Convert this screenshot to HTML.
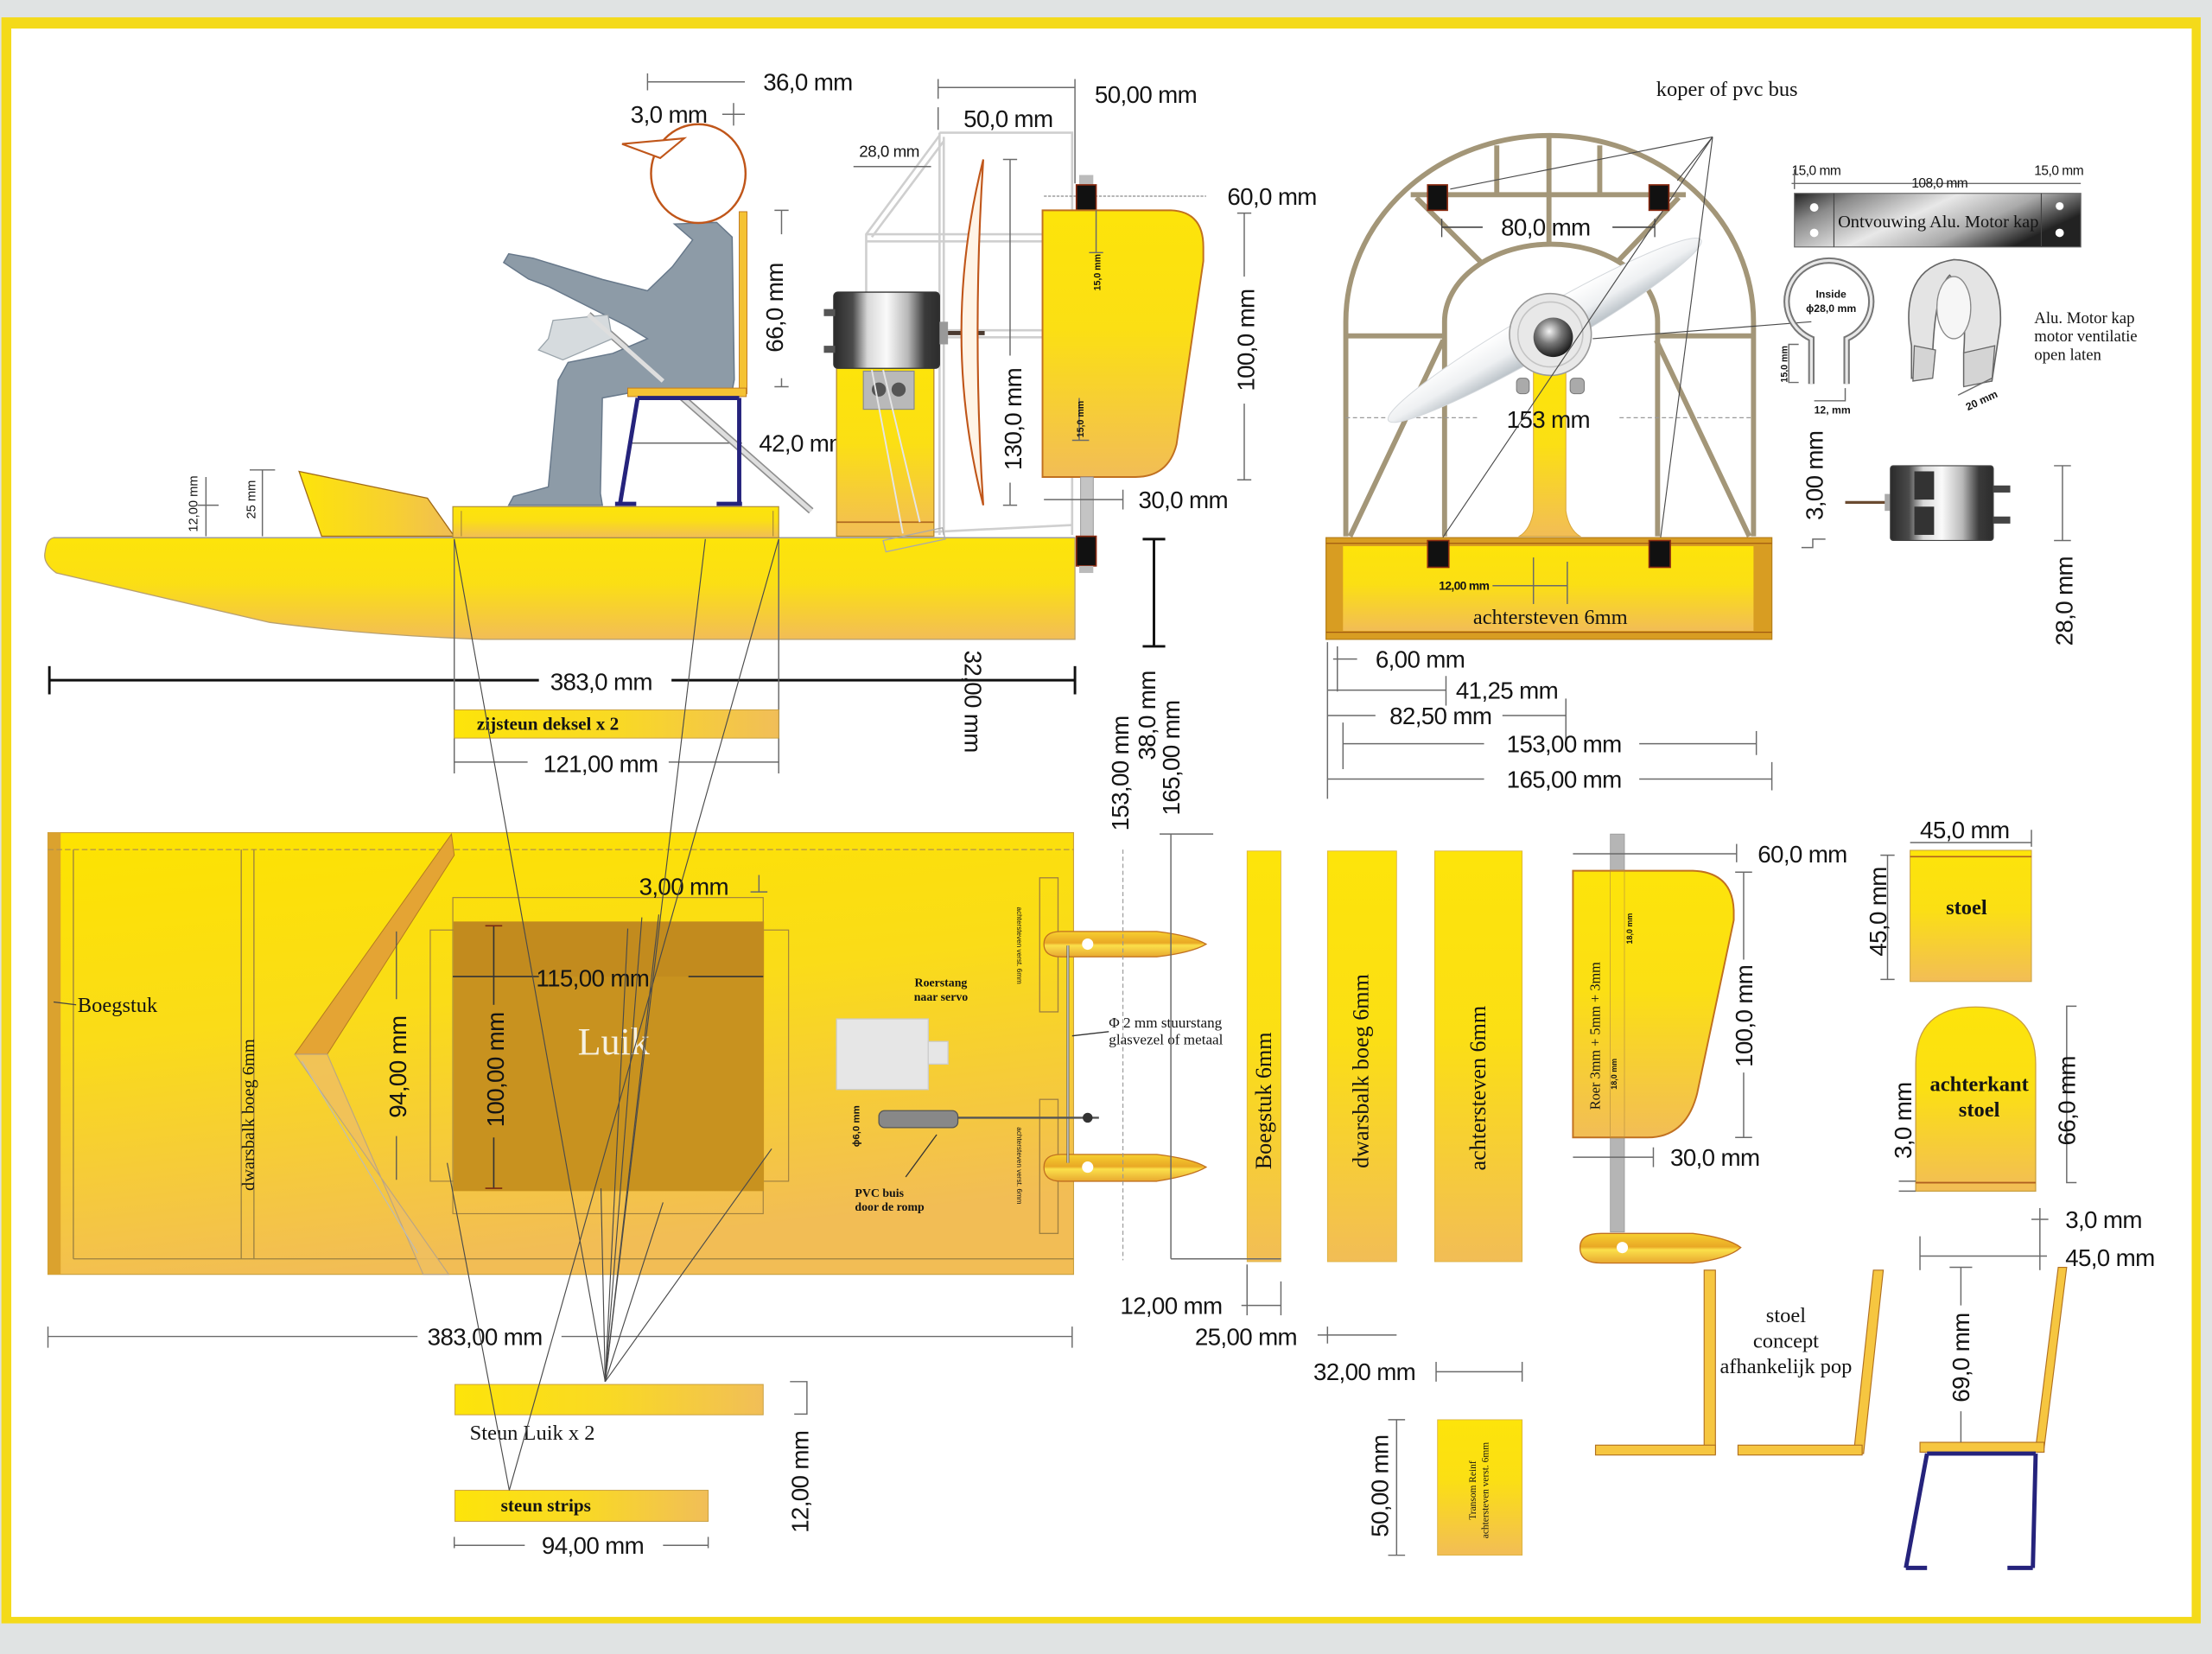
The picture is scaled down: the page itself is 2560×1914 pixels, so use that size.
<!DOCTYPE html>
<html><head><meta charset="utf-8"><style>
html,body{margin:0;padding:0;background:#fff;}
svg{display:block;}
.d{font-family:"Liberation Sans",sans-serif;font-size:17px;fill:#141414;letter-spacing:-0.4px;}
.t{font-family:"Liberation Sans",sans-serif;fill:#141414;}
.s{font-family:"Liberation Serif",serif;fill:#141414;}
.ln{stroke:#6a6a6a;stroke-width:0.9;fill:none;}
.lk{stroke:#111;stroke-width:1.8;fill:none;}
.fr{stroke:#a39678;stroke-width:3.6;fill:none;}
.fan{stroke:#4a4a4a;stroke-width:0.7;fill:none;}
</style></head><body>
<svg width="2560" height="1914" viewBox="0 0 1568 1172" preserveAspectRatio="none" xmlns="http://www.w3.org/2000/svg">
<defs>
<linearGradient id="gY" x1="0" y1="0" x2="0" y2="1">
<stop offset="0" stop-color="#fde40a"/><stop offset="0.45" stop-color="#fbdf14"/><stop offset="1" stop-color="#f2bd56"/></linearGradient>
<linearGradient id="gH" x1="0" y1="0" x2="1" y2="0">
<stop offset="0" stop-color="#fde40a"/><stop offset="0.5" stop-color="#f9d924"/><stop offset="1" stop-color="#f1be58"/></linearGradient>
<linearGradient id="gT" x1="0" y1="0" x2="0.25" y2="1">
<stop offset="0" stop-color="#fde300"/><stop offset="0.45" stop-color="#fadc18"/><stop offset="1" stop-color="#f2bd55"/></linearGradient>
<linearGradient id="gM" x1="0" y1="0" x2="1" y2="0">
<stop offset="0" stop-color="#2a2a2a"/><stop offset="0.18" stop-color="#4a4a4a"/><stop offset="0.32" stop-color="#d8d8d8"/><stop offset="0.5" stop-color="#fafafa"/><stop offset="0.7" stop-color="#b8b8b8"/><stop offset="0.86" stop-color="#3a3a3a"/><stop offset="1" stop-color="#2c2c2c"/></linearGradient>
<linearGradient id="gS" x1="0" y1="0" x2="1" y2="0.4">
<stop offset="0" stop-color="#222"/><stop offset="0.2" stop-color="#8a8a8a"/><stop offset="0.5" stop-color="#e8e8e8"/><stop offset="0.75" stop-color="#aaa"/><stop offset="1" stop-color="#222"/></linearGradient>
<linearGradient id="gP" x1="0" y1="0" x2="0" y2="1">
<stop offset="0" stop-color="#ffffff"/><stop offset="0.55" stop-color="#eef0f2"/><stop offset="1" stop-color="#b8c0c6"/></linearGradient>
<radialGradient id="gHub" cx="0.4" cy="0.35" r="0.7">
<stop offset="0" stop-color="#f4f4f4"/><stop offset="0.45" stop-color="#777"/><stop offset="1" stop-color="#111"/></radialGradient>
<linearGradient id="gF" x1="0" y1="0" x2="0" y2="1">
<stop offset="0" stop-color="#f7d030"/><stop offset="0.45" stop-color="#e9a825"/><stop offset="0.55" stop-color="#fbe04a"/><stop offset="1" stop-color="#e8a830"/></linearGradient>
<linearGradient id="gW" x1="0" y1="0" x2="1" y2="0">
<stop offset="0" stop-color="#fde40a"/><stop offset="0.6" stop-color="#f7d030"/><stop offset="1" stop-color="#f0bd55"/></linearGradient>
</defs>

<!-- frame -->
<rect x="0" y="0" width="1568" height="1172" fill="#e0e3e3"/>
<rect x="1" y="12.3" width="1559" height="1138" fill="#f4da1a"/>
<rect x="8" y="20.2" width="1545.6" height="1125.5" fill="#ffffff"/>

<!-- ================= SIDE VIEW ================= -->
<g stroke="#cfcfcf" stroke-width="1.6" fill="none">
<path d="M666,94 L760,94 L760,379 M666,94 L666,379 M669,97 L669,379"/>
<path d="M666,96 L614,166 L614,262 M669,100 L618,168"/>
<path d="M614,166 L760,166 M614,171 L760,171"/>
<path d="M666,234 L760,234 M666,239 L760,239"/>
<path d="M614,262 L640,378 M618,262 L650,378"/>
<path d="M640,378 L760,372"/>
</g>
<line class="ln" x1="459" y1="58" x2="528" y2="58"/><line class="ln" x1="459" y1="52" x2="459" y2="64"/>
<text class="d" x="541" y="64">36,0 mm</text>
<text class="d" x="447" y="87">3,0 mm</text>
<line class="ln" x1="512" y1="81" x2="528" y2="81"/><line class="ln" x1="520" y1="73" x2="520" y2="89"/>
<line class="ln" x1="665" y1="62" x2="762" y2="62"/><line class="ln" x1="665" y1="56" x2="665" y2="70"/><line class="ln" x1="762" y1="56" x2="762" y2="130"/>
<text class="d" x="776" y="73">50,00 mm</text>
<line class="ln" x1="665" y1="76" x2="665" y2="92"/>
<text class="d" x="683" y="90">50,0 mm</text>
<text class="t" x="609" y="111" font-size="11.5" letter-spacing="-0.3">28,0 mm</text>
<line class="ln" x1="605" y1="118" x2="660" y2="118"/>

<line class="ln" x1="554" y1="149" x2="554" y2="166"/><line class="ln" x1="554" y1="268" x2="554" y2="274"/>
<line class="ln" x1="549" y1="149" x2="559" y2="149"/><line class="ln" x1="549" y1="274" x2="559" y2="274"/>
<text class="d" transform="translate(555,218) rotate(-90)" text-anchor="middle">66,0 mm</text>
<line class="ln" x1="448" y1="314" x2="526" y2="314"/>
<text class="d" x="538" y="320">42,0 mm</text>

<line x1="417" y1="223" x2="575" y2="362" stroke="#8e8e8e" stroke-width="5"/>
<line x1="417" y1="223" x2="575" y2="362" stroke="#dedede" stroke-width="3"/>

<path d="M478,158.7 L508,157.6 L519,168 L520.5,269 L519,277 L448.5,278 L427,282 L425.6,349.6 L427,358 L360.6,358 L364,351.7 L388.7,345 L395.7,269.4 L402.7,256.8 L434.4,250.4 L459,240 L445,231.4 L388.7,203 L374.6,197.7 L357,186 L360.6,179.8 L378,183 L427,198 L459,206 L476.6,189 L491,170 Z" fill="#8d9ba7" stroke="#67788a" stroke-width="0.9"/>
<path d="M392,227 L431,223 L434,240 L399,255 L381.7,248 L388.7,240 Z" fill="#d6dbde" stroke="#9aa4ab" stroke-width="0.8"/>
<line x1="417" y1="223" x2="470" y2="270" stroke="#dedede" stroke-width="3"/>
<ellipse cx="495" cy="123" rx="33.5" ry="35" fill="#fff" stroke="#c0561a" stroke-width="1.5"/>
<polygon points="441,102 485,98 468,112" fill="#fff" stroke="#c0561a" stroke-width="1.3"/>
<rect x="524" y="150" width="5.5" height="129" fill="#f5c233" stroke="#c07a20" stroke-width="0.6"/>
<rect x="445" y="275" width="84" height="6" fill="#f5c233" stroke="#c07a20" stroke-width="0.6"/>
<path d="M452,282 L439.7,356 M524,282 L524,356 M452,282 L524,282 M436,357 L451,357 M508,357 L526,357" stroke="#25237c" stroke-width="3" fill="none"/>

<polygon points="212,334 303,353 322,380 228,380" fill="url(#gW)" stroke="#a06a18" stroke-width="0.8"/>
<path d="M38,381 L762,381 L762,453 L342,453 Q260,450 191,441 L40,406 Q30,399 32,391 Q33,382 38,381 Z" fill="url(#gY)" stroke="#b8a070" stroke-width="0.8"/>
<line x1="38" y1="381" x2="762" y2="381" stroke="#9a9a9a" stroke-width="0.8"/>
<rect x="321" y="359" width="231" height="22" fill="url(#gY)" stroke="#a88a3a" stroke-width="0.7"/>
<line x1="327" y1="362" x2="327" y2="380" stroke="#a88a3a" stroke-width="0.7"/>
<line x1="548" y1="362" x2="548" y2="380" stroke="#a88a3a" stroke-width="0.7"/>
<text class="t" font-size="9" transform="translate(140,357) rotate(-90)" text-anchor="middle">12,00 mm</text>
<line class="ln" x1="140" y1="358" x2="155" y2="358"/><line class="ln" x1="146" y1="338" x2="146" y2="380"/>
<text class="t" font-size="9" transform="translate(181,354) rotate(-90)" text-anchor="middle">25 mm</text>
<line class="ln" x1="186" y1="333" x2="186" y2="380"/><line class="ln" x1="177" y1="333" x2="195" y2="333"/>

<rect x="593" y="260" width="69" height="120" fill="url(#gY)" stroke="#b58a30" stroke-width="0.8"/>
<line x1="593" y1="370" x2="662" y2="370" stroke="#b06a20" stroke-width="1"/>
<rect x="612" y="263" width="36" height="27" fill="#b9b9b9" stroke="#888" stroke-width="0.7"/>
<circle cx="623" cy="276" r="5" fill="#555"/><circle cx="637" cy="276" r="5" fill="#555"/>
<g stroke="#e5e5e5" stroke-width="1.2" fill="none"><path d="M618,262 L640,378 M626,262 L652,370"/></g>
<polygon points="626,383 668,374 670,382 628,391" fill="none" stroke="#aaa" stroke-width="0.8"/>
<rect x="591" y="207" width="75" height="54" rx="3" fill="url(#gM)" stroke="#333" stroke-width="0.8"/>
<rect x="584" y="219" width="8" height="5" fill="#555"/><rect x="584" y="245" width="8" height="5" fill="#555"/>
<rect x="666" y="228" width="6" height="16" fill="#999"/>
<line x1="672" y1="236" x2="698" y2="236" stroke="#4a3a30" stroke-width="3"/>
<path d="M697,113 Q666,236 697,358 Q689,236 697,113 Z" fill="#fff4e6" stroke="#c0561a" stroke-width="1.3"/>
<line class="ln" x1="716" y1="113" x2="716" y2="252"/><line class="ln" x1="716" y1="342" x2="716" y2="358"/>
<line class="ln" x1="711" y1="113" x2="721" y2="113"/><line class="ln" x1="711" y1="358" x2="721" y2="358"/>
<text class="d" transform="translate(724,297) rotate(-90)" text-anchor="middle">130,0 mm</text>

<line x1="740" y1="139" x2="855" y2="139" stroke="#8a8a8a" stroke-width="0.8" stroke-dasharray="2,1"/>
<rect x="765" y="124" width="10" height="9" fill="#bbb"/>
<rect x="763" y="131" width="14" height="18" fill="#111" stroke="#8a2a10" stroke-width="1"/>
<path d="M739,149 L830,149 Q853,150 853,175 L853,185 L834,315 Q828,338 805,338 L739,338 Z" fill="url(#gY)" stroke="#c07020" stroke-width="1.2"/>
<rect x="766" y="338" width="9" height="44" fill="#c4c4c4" stroke="#999" stroke-width="0.6"/>
<rect x="763" y="380" width="14" height="21" fill="#111" stroke="#8a2a10" stroke-width="1"/>
<rect x="765" y="401" width="10" height="5" fill="#bbb"/>
<line class="ln" x1="777" y1="149" x2="777" y2="179"/><line class="ln" x1="772" y1="179" x2="782" y2="179"/>
<text class="t" font-size="6.5" transform="translate(780,193) rotate(-90)" text-anchor="middle" font-weight="bold">15,0 mm</text>
<line class="ln" x1="765" y1="282" x2="765" y2="312"/><line class="ln" x1="760" y1="312" x2="772" y2="312"/>
<text class="t" font-size="6.5" transform="translate(768,297) rotate(-90)" text-anchor="middle" font-weight="bold">15,0 mm</text>
<text class="d" x="870" y="145">60,0 mm</text>
<line class="ln" x1="882" y1="151" x2="882" y2="196"/><line class="ln" x1="882" y1="286" x2="882" y2="340"/>
<line class="ln" x1="877" y1="151" x2="887" y2="151"/><line class="ln" x1="877" y1="340" x2="887" y2="340"/>
<text class="d" transform="translate(889,241) rotate(-90)" text-anchor="middle">100,0 mm</text>
<line class="ln" x1="740" y1="354" x2="796" y2="354"/><line class="ln" x1="796" y1="347" x2="796" y2="361"/>
<text class="d" x="807" y="360">30,0 mm</text>

<line class="lk" x1="35" y1="482" x2="382" y2="482"/><line class="lk" x1="476" y1="482" x2="762" y2="482"/>
<line class="lk" x1="35" y1="472" x2="35" y2="492"/><line class="lk" x1="762" y1="472" x2="762" y2="492"/>
<text class="d" x="390" y="489">383,0 mm</text>
<line class="ln" x1="322" y1="382" x2="322" y2="548"/><line class="ln" x1="552" y1="382" x2="552" y2="548"/>
<rect x="322" y="503" width="230" height="20" fill="url(#gH)" stroke="#c9a040" stroke-width="0.6"/>
<text class="s" x="338" y="517" font-size="13" font-weight="bold">zijsteun deksel  x 2</text>
<line class="ln" x1="322" y1="540" x2="374" y2="540"/><line class="ln" x1="474" y1="540" x2="552" y2="540"/>
<text class="d" x="385" y="547">121,00 mm</text>
<text class="d" transform="translate(684,497) rotate(90)" text-anchor="middle">32,00 mm</text>
<line class="lk" x1="818" y1="382" x2="818" y2="458"/><line class="lk" x1="810" y1="382" x2="826" y2="382"/><line class="lk" x1="810" y1="458" x2="826" y2="458"/>
<text class="d" transform="translate(800,548) rotate(-90)" text-anchor="middle">153,00 mm</text>
<text class="d" transform="translate(819,507) rotate(-90)" text-anchor="middle">38,0 mm</text>
<text class="d" transform="translate(836,537) rotate(-90)" text-anchor="middle">165,00 mm</text>

<!-- ================= FRONT VIEW ================= -->
<text class="s" x="1174" y="68" font-size="15">koper of pvc bus</text>
<path class="fr" d="M954,380 L954,228 A144.5,132 0 0 1 1243,228 L1243,380"/>
<path class="fr" d="M1024,380 L1024,228 A75.5,55 0 0 1 1175,228 L1175,380"/>
<line class="fr" x1="1000" y1="138" x2="1195" y2="138"/>
<line class="fr" x1="1061" y1="138" x2="1061" y2="103" stroke-width="3"/>
<line class="fr" x1="1098" y1="138" x2="1098" y2="96" stroke-width="3"/>
<line class="fr" x1="1134" y1="138" x2="1134" y2="103" stroke-width="3"/>
<line class="fr" x1="1098" y1="138" x2="1098" y2="174" stroke-width="3"/>
<line class="fr" x1="1004" y1="140" x2="1050" y2="186" stroke-width="3"/>
<line class="fr" x1="1190" y1="140" x2="1146" y2="186" stroke-width="3"/>
<line class="fr" x1="954" y1="238" x2="1024" y2="238" stroke-width="2.5"/>
<line class="fr" x1="1175" y1="238" x2="1243" y2="238" stroke-width="2.5"/>
<line x1="954" y1="296" x2="1048" y2="296" stroke="#999" stroke-width="0.8" stroke-dasharray="3,2"/>
<line x1="1148" y1="296" x2="1243" y2="296" stroke="#999" stroke-width="0.8" stroke-dasharray="3,2"/>
<line class="fr" x1="957" y1="380" x2="1023" y2="241" stroke-width="3"/>
<line class="fr" x1="1240" y1="380" x2="1174" y2="241" stroke-width="3"/>
<!-- propeller blade -->
<ellipse cx="1095" cy="234" rx="128" ry="15" transform="rotate(-30 1095 234)" fill="url(#gP)" stroke="#d4d8dc" stroke-width="0.6"/>
<!-- pole -->
<path d="M1087,262 L1110,262 L1110,362 Q1112,375 1120,380 L1077,380 Q1085,375 1087,362 Z" fill="url(#gY)" stroke="#d6a53a" stroke-width="0.6"/>
<rect x="1075" y="268" width="9" height="11" rx="3" fill="#aaa" stroke="#777" stroke-width="0.6"/>
<rect x="1113" y="268" width="10" height="11" rx="3" fill="#aaa" stroke="#777" stroke-width="0.6"/>
<!-- hub -->
<circle cx="1099" cy="237" r="29" fill="#e8e8e8" stroke="#9a9a9a" stroke-width="1"/>
<circle cx="1099" cy="237" r="23" fill="none" stroke="#c4c4c4" stroke-width="1"/>
<circle cx="1101" cy="239" r="14" fill="url(#gHub)"/>
<g class="fan">
<line x1="1214" y1="97" x2="1028" y2="134"/>
<line x1="1214" y1="97" x2="1189" y2="128"/>
<line x1="1214" y1="97" x2="1022" y2="382"/>
<line x1="1214" y1="97" x2="1177" y2="382"/>
<line x1="1284" y1="228" x2="1129" y2="240"/>
</g>
<rect x="940" y="381" width="316" height="72" fill="#d89d22" stroke="#b7801a" stroke-width="0.8"/>
<rect x="952" y="387" width="291" height="60" fill="url(#gY)"/>
<line x1="940" y1="385" x2="1256" y2="385" stroke="#a05a10" stroke-width="0.8"/>
<line x1="940" y1="448" x2="1256" y2="448" stroke="#a05a10" stroke-width="0.8"/>
<rect x="1012" y="131" width="14" height="18" fill="#111" stroke="#8a2a10" stroke-width="1"/>
<rect x="1169" y="131" width="14" height="18" fill="#111" stroke="#8a2a10" stroke-width="1"/>
<rect x="1012" y="383" width="15" height="19" fill="#111" stroke="#8a2a10" stroke-width="1"/>
<rect x="1169" y="383" width="15" height="19" fill="#111" stroke="#8a2a10" stroke-width="1"/>
<line x1="1022" y1="161" x2="1051" y2="161" stroke="#444" stroke-width="1"/>
<line x1="1143" y1="161" x2="1173" y2="161" stroke="#444" stroke-width="1"/>
<line x1="1022" y1="155" x2="1022" y2="168" stroke="#444" stroke-width="0.8"/>
<line x1="1173" y1="155" x2="1173" y2="168" stroke="#444" stroke-width="0.8"/>
<text class="d" x="1064" y="167">80,0 mm</text>
<text class="d" x="1068" y="303">153 mm</text>
<text class="t" x="1020" y="418" font-size="8.5" font-weight="bold" letter-spacing="-0.4">12,00 mm</text>
<line class="ln" x1="1058" y1="415" x2="1111" y2="415"/><line class="ln" x1="1087" y1="395" x2="1087" y2="428"/><line class="ln" x1="1111" y1="398" x2="1111" y2="428"/>
<text class="s" x="1099" y="442" font-size="15" text-anchor="middle">achtersteven 6mm</text>
<line class="ln" x1="941" y1="455" x2="941" y2="566"/>
<line class="ln" x1="945" y1="467" x2="962" y2="467"/><line class="ln" x1="948" y1="458" x2="948" y2="490"/>
<text class="d" x="975" y="473">6,00 mm</text>
<line class="ln" x1="941" y1="489" x2="1025" y2="489"/><line class="ln" x1="1025" y1="479" x2="1025" y2="500"/>
<text class="d" x="1032" y="495">41,25 mm</text>
<line class="ln" x1="941" y1="507" x2="975" y2="507"/><line class="ln" x1="1065" y1="507" x2="1110" y2="507"/><line class="ln" x1="1110" y1="495" x2="1110" y2="525"/>
<text class="d" x="985" y="513">82,50 mm</text>
<line class="ln" x1="952" y1="527" x2="1052" y2="527"/><line class="ln" x1="1162" y1="527" x2="1245" y2="527"/>
<line class="ln" x1="952" y1="512" x2="952" y2="545"/><line class="ln" x1="1245" y1="518" x2="1245" y2="535"/>
<text class="d" x="1068" y="533">153,00 mm</text>
<line class="ln" x1="941" y1="552" x2="1052" y2="552"/><line class="ln" x1="1162" y1="552" x2="1256" y2="552"/><line class="ln" x1="1256" y1="540" x2="1256" y2="560"/>
<text class="d" x="1068" y="558">165,00 mm</text>

<!-- alu strip -->
<text class="t" x="1270" y="124" font-size="9.5" letter-spacing="-0.3">15,0 mm</text>
<text class="t" x="1442" y="124" font-size="9.5" letter-spacing="-0.3">15,0 mm</text>
<line class="ln" x1="1270" y1="130" x2="1475" y2="130"/><line class="ln" x1="1272" y1="120" x2="1272" y2="134"/>
<text class="t" x="1355" y="133" font-size="9.5" letter-spacing="-0.3">108,0 mm</text>
<rect x="1272" y="137" width="203" height="38" fill="url(#gS)" stroke="#666" stroke-width="0.7"/>
<line x1="1300" y1="137" x2="1300" y2="175" stroke="#444" stroke-width="0.7"/>
<line x1="1447" y1="137" x2="1447" y2="175" stroke="#444" stroke-width="0.7"/>
<circle cx="1286" cy="147" r="3" fill="#fff"/><circle cx="1286" cy="165" r="3" fill="#fff"/>
<circle cx="1460" cy="146" r="3" fill="#fff" stroke="#777" stroke-width="0.5"/><circle cx="1460" cy="165" r="3" fill="#fff"/>
<text class="s" x="1374" y="161" font-size="12.5" text-anchor="middle">Ontvouwing Alu. Motor kap</text>
<path d="M1284,272 L1284,240 A30,29 0 1 1 1309,240 L1309,272" fill="none" stroke="#777" stroke-width="4.5"/>
<path d="M1284,272 L1284,240 A30,29 0 1 1 1309,240 L1309,272" fill="none" stroke="#e8e8e8" stroke-width="2"/>
<text class="t" x="1298" y="211" font-size="7.5" font-weight="bold" text-anchor="middle">Inside</text>
<text class="t" x="1298" y="221" font-size="7.5" font-weight="bold" text-anchor="middle">ϕ28,0 mm</text>
<text class="t" font-size="6.5" transform="translate(1267,258) rotate(-90)" text-anchor="middle" font-weight="bold">15,0 mm</text>
<path d="M1275,244 L1268,244 L1268,271 L1275,271" class="ln"/>
<path d="M1308,275 L1308,284 L1286,284" class="ln"/>
<text class="t" x="1286" y="293" font-size="7.5" font-weight="bold">12, mm</text>
<path d="M1355,245 Q1345,190 1385,184 Q1420,185 1418,230 L1412,270 L1392,273 L1392,250 Q1395,210 1382,195 Q1372,205 1370,250 L1370,265 L1355,268 Z" fill="#e4e4e4" stroke="#666" stroke-width="1"/>
<ellipse cx="1385" cy="218" rx="12" ry="22" fill="#f6f6f6" stroke="#888" stroke-width="0.8"/>
<path d="M1392,250 L1414,245 L1412,270 L1392,274 Z" fill="#d4d4d4" stroke="#666" stroke-width="0.8"/>
<path d="M1357,245 L1372,248 L1370,268 L1356,270 Z" fill="#d4d4d4" stroke="#666" stroke-width="0.8"/>
<line class="ln" x1="1388" y1="280" x2="1412" y2="268"/>
<text class="t" font-size="7.5" font-weight="bold" transform="translate(1395,291) rotate(-25)">20 mm</text>
<text class="s" x="1442" y="229" font-size="11.5">Alu. Motor kap</text>
<text class="s" x="1442" y="242" font-size="11.5">motor ventilatie</text>
<text class="s" x="1442" y="255" font-size="11.5">open laten</text>
<text class="d" transform="translate(1292,337) rotate(-90)" text-anchor="middle">3,00 mm</text>
<path d="M1277,388 L1285,388 L1285,382 L1294,382" class="ln"/>
<line x1="1308" y1="356" x2="1340" y2="356" stroke="#6a4a30" stroke-width="2"/>
<rect x="1336" y="350" width="5" height="12" fill="#aaa"/>
<rect x="1340" y="330" width="73" height="53" rx="2" fill="url(#gM)" stroke="#444" stroke-width="0.7"/>
<rect x="1357" y="334" width="14" height="20" fill="#333"/><rect x="1357" y="359" width="14" height="20" fill="#333"/>
<rect x="1413" y="344" width="12" height="5" fill="#444"/><rect x="1413" y="366" width="12" height="5" fill="#444"/>
<line class="ln" x1="1462" y1="330" x2="1462" y2="383"/><line class="ln" x1="1456" y1="330" x2="1468" y2="330"/><line class="ln" x1="1456" y1="383" x2="1468" y2="383"/>
<text class="d" transform="translate(1469,426) rotate(-90)" text-anchor="middle">28,0 mm</text>

<!-- ================= TOP VIEW ================= -->
<rect x="34" y="590" width="727" height="313" fill="url(#gT)" stroke="#c9a040" stroke-width="0.7"/>
<rect x="34" y="590" width="9" height="313" fill="#dba22e"/>
<line x1="52" y1="602" x2="52" y2="892" stroke="#9a8040" stroke-width="0.8"/>
<line x1="34" y1="602" x2="761" y2="602" stroke="#b09050" stroke-width="0.7" stroke-dasharray="4,2"/>
<line x1="52" y1="892" x2="761" y2="892" stroke="#9a8040" stroke-width="0.8"/>
<line x1="171" y1="602" x2="171" y2="892" stroke="#9a8040" stroke-width="0.8"/>
<line x1="180" y1="602" x2="180" y2="892" stroke="#9a8040" stroke-width="0.8"/>
<text class="s" transform="translate(180,790) rotate(-90)" text-anchor="middle" font-size="12.5">dwarsbalk boeg 6mm</text>
<polygon points="320,591 209,747 232,747 322,606" fill="#e4a434" stroke="#b47a20" stroke-width="0.6"/>
<polygon points="209,747 318,903 300,903 232,747" fill="#f0c060" stroke="#b0a090" stroke-width="0.7" opacity="0.85"/>
<line x1="214" y1="752" x2="296" y2="888" stroke="#bbb" stroke-width="0.7"/>
<rect x="321" y="636" width="220" height="224" fill="none" stroke="#a08040" stroke-width="0.7"/>
<rect x="305" y="659" width="254" height="178" fill="none" stroke="#a08040" stroke-width="0.7"/>
<rect x="321.5" y="653" width="220" height="191" fill="#c8921f"/>
<rect x="321.5" y="653" width="220" height="39" fill="#c28b1e"/>
<line x1="321" y1="692" x2="382" y2="692" stroke="#333" stroke-width="1"/><line x1="488" y1="692" x2="541" y2="692" stroke="#333" stroke-width="1"/>
<text class="d" x="380" y="699">115,00 mm</text>
<text x="435" y="747" font-size="27" text-anchor="middle" style="fill:#f6f1e2;font-family:'Liberation Serif',serif;">Luik</text>
<line x1="350" y1="656" x2="350" y2="712" stroke="#333" stroke-width="1"/><line x1="350" y1="806" x2="350" y2="842" stroke="#333" stroke-width="1"/>
<line x1="344" y1="656" x2="356" y2="656" stroke="#7a2a10" stroke-width="1"/><line x1="344" y1="842" x2="356" y2="842" stroke="#7a2a10" stroke-width="1"/>
<text class="d" transform="translate(357,758) rotate(-90)" text-anchor="middle">100,00 mm</text>
<line x1="281" y1="660" x2="281" y2="708" stroke="#555" stroke-width="0.8"/><line x1="281" y1="805" x2="281" y2="836" stroke="#555" stroke-width="0.8"/>
<text class="d" transform="translate(288,756) rotate(-90)" text-anchor="middle">94,00 mm</text>
<text class="d" x="453" y="634">3,00 mm</text>
<line class="ln" x1="538" y1="620" x2="538" y2="632"/><line class="ln" x1="532" y1="632" x2="544" y2="632"/>
<text class="s" x="55" y="717" font-size="15">Boegstuk</text>
<line x1="54" y1="712" x2="38" y2="710" stroke="#444" stroke-width="0.8"/>
<rect x="737" y="622" width="13" height="95" fill="none" stroke="#a08040" stroke-width="0.8"/>
<rect x="737" y="779" width="13" height="95" fill="none" stroke="#a08040" stroke-width="0.8"/>
<text class="t" font-size="5" transform="translate(721,670) rotate(90)" text-anchor="middle">achtersteven verst. 6mm</text>
<text class="t" font-size="5" transform="translate(721,826) rotate(90)" text-anchor="middle">achtersteven verst. 6mm</text>
<path d="M740,669 Q740,660 752,660 L820,660 Q845,663 855,669 Q845,675 820,678 L752,678 Q740,678 740,669 Z" fill="url(#gF)" stroke="#c07020" stroke-width="0.8"/>
<path d="M740,827 Q740,818 752,818 L820,818 Q845,821 855,827 Q845,833 820,837 L752,837 Q740,837 740,827 Z" fill="url(#gF)" stroke="#c07020" stroke-width="0.8"/>
<circle cx="771" cy="669" r="4" fill="#fff"/><circle cx="771" cy="827" r="4" fill="#fff"/>
<line x1="757" y1="670" x2="757" y2="824" stroke="#555" stroke-width="1.8"/>
<line x1="757" y1="670" x2="757" y2="824" stroke="#ddd" stroke-width="0.8"/>
<rect x="593" y="722" width="65" height="50" fill="#e6e6e6" stroke="#ccc" stroke-width="0.8"/>
<rect x="658" y="738" width="14" height="16" fill="#e6e6e6" stroke="#ccc" stroke-width="0.8"/>
<rect x="623" y="787" width="56" height="12" rx="4" fill="#888" stroke="#555" stroke-width="0.8"/>
<line x1="679" y1="792" x2="779" y2="792" stroke="#555" stroke-width="1.4"/>
<circle cx="771" cy="792" r="3.5" fill="#333"/>
<line x1="664" y1="804" x2="642" y2="834" stroke="#333" stroke-width="0.8"/>
<text class="t" font-size="7" font-weight="bold" transform="translate(609,798) rotate(-90)" text-anchor="middle">ϕ6,0 mm</text>
<text class="s" x="606" y="848" font-size="8.5" font-weight="bold">PVC buis</text>
<text class="s" x="606" y="858" font-size="8.5" font-weight="bold">door de romp</text>
<text class="s" x="667" y="699" font-size="8.5" font-weight="bold" text-anchor="middle">Roerstang</text>
<text class="s" x="667" y="709" font-size="8.5" font-weight="bold" text-anchor="middle">naar servo</text>
<text class="s" x="786" y="728" font-size="10.5">Φ 2 mm stuurstang</text>
<text class="s" x="786" y="740" font-size="10.5">glasvezel of metaal</text>
<line x1="786" y1="731" x2="760" y2="734" stroke="#333" stroke-width="0.8"/>
<line class="ln" x1="34" y1="947" x2="296" y2="947"/><line class="ln" x1="398" y1="947" x2="760" y2="947"/>
<line class="ln" x1="34" y1="940" x2="34" y2="955"/><line class="ln" x1="760" y1="940" x2="760" y2="955"/>
<text class="d" x="303" y="953">383,00 mm</text>
<rect x="322.5" y="981" width="218.5" height="21.5" fill="url(#gH)" stroke="#c9a040" stroke-width="0.6"/>
<text class="s" x="333" y="1020" font-size="15">Steun Luik x 2</text>
<rect x="322.5" y="1056" width="179.5" height="22" fill="url(#gH)" stroke="#c9a040" stroke-width="0.6"/>
<text class="s" x="355" y="1071" font-size="13" font-weight="bold">steun strips</text>
<line class="ln" x1="322" y1="1095" x2="372" y2="1095"/><line class="ln" x1="470" y1="1095" x2="502" y2="1095"/>
<line class="ln" x1="322" y1="1089" x2="322" y2="1097"/><line class="ln" x1="502" y1="1089" x2="502" y2="1097"/>
<text class="d" x="384" y="1101">94,00 mm</text>
<path d="M560,979 L572,979 L572,1002 L563,1002" class="ln"/>
<text class="d" transform="translate(573,1050) rotate(-90)" text-anchor="middle">12,00 mm</text>
<g class="fan">
<line x1="429" y1="979" x2="322" y2="382"/>
<line x1="429" y1="979" x2="500" y2="382"/>
<line x1="429" y1="979" x2="445" y2="658"/>
<line x1="429" y1="979" x2="467" y2="648"/>
<line x1="429" y1="979" x2="470" y2="852"/>
<line x1="429" y1="979" x2="426" y2="842"/>
<line x1="429" y1="979" x2="547" y2="814"/>
<line x1="429" y1="979" x2="455" y2="650"/>
<line x1="361" y1="1056" x2="317" y2="824"/>
<line x1="361" y1="1056" x2="552" y2="382"/>
</g>

<!-- ================= PARTS ================= -->
<rect x="884" y="603" width="24" height="291" fill="url(#gY)" stroke="#d8b040" stroke-width="0.5"/>
<rect x="941" y="603" width="49" height="291" fill="url(#gY)" stroke="#d8b040" stroke-width="0.5"/>
<rect x="1017" y="603" width="62" height="291" fill="url(#gY)" stroke="#d8b040" stroke-width="0.5"/>
<text class="s" transform="translate(901,780) rotate(-90)" text-anchor="middle" font-size="16">Boegstuk 6mm</text>
<text class="s" transform="translate(970,759) rotate(-90)" text-anchor="middle" font-size="16">dwarsbalk boeg 6mm</text>
<text class="s" transform="translate(1053,771) rotate(-90)" text-anchor="middle" font-size="16">achtersteven 6mm</text>
<line x1="796" y1="602" x2="796" y2="893" stroke="#999" stroke-width="0.7" stroke-dasharray="3,2"/>
<line class="ln" x1="830" y1="591" x2="830" y2="892"/><line class="ln" x1="822" y1="591" x2="860" y2="591"/>
<line class="ln" x1="830" y1="892" x2="908" y2="892"/>
<line class="ln" x1="884" y1="896" x2="884" y2="932"/><line class="ln" x1="908" y1="908" x2="908" y2="932"/>
<line class="ln" x1="880" y1="925" x2="908" y2="925"/>
<text class="d" x="794" y="931">12,00 mm</text>
<line class="ln" x1="934" y1="946" x2="990" y2="946"/><line class="ln" x1="941" y1="940" x2="941" y2="952"/>
<text class="d" x="847" y="953">25,00 mm</text>
<line class="ln" x1="1018" y1="972" x2="1079" y2="972"/><line class="ln" x1="1018" y1="965" x2="1018" y2="979"/><line class="ln" x1="1079" y1="965" x2="1079" y2="979"/>
<text class="d" x="931" y="978">32,00 mm</text>
<rect x="1019" y="1006" width="60" height="96" fill="url(#gY)" stroke="#d8b040" stroke-width="0.5"/>
<text class="s" font-size="7" transform="translate(1046,1056) rotate(-90)" text-anchor="middle">Transom Reinf</text>
<text class="s" font-size="7" transform="translate(1055,1056) rotate(-90)" text-anchor="middle">achtersteven verst. 6mm</text>
<line class="ln" x1="990" y1="1006" x2="990" y2="1102"/><line class="ln" x1="984" y1="1006" x2="996" y2="1006"/><line class="ln" x1="984" y1="1102" x2="996" y2="1102"/>
<text class="d" transform="translate(984,1053) rotate(-90)" text-anchor="middle">50,00 mm</text>

<rect x="1141.5" y="591" width="10" height="282" fill="#b5b5b5" stroke="#999" stroke-width="0.5"/>
<line class="ln" x1="1115" y1="605" x2="1231" y2="605"/><line class="ln" x1="1231" y1="598" x2="1231" y2="611"/>
<text class="d" x="1246" y="611">60,0 mm</text>
<path d="M1115,617 L1200,617 Q1228,618 1229,645 L1229,652 L1203,775 Q1195,806 1168,806 L1115,806 Z" fill="url(#gY)" stroke="#c07020" stroke-width="1.2"/>
<rect x="1141.5" y="617" width="10" height="189" fill="none" stroke="#b89040" stroke-width="0.4"/>
<text class="s" font-size="10" transform="translate(1134,734) rotate(-90)" text-anchor="middle">Roer 3mm + 5mm + 3mm</text>
<text class="t" font-size="5.5" font-weight="bold" transform="translate(1157,658) rotate(-90)" text-anchor="middle">18,0 mm</text>
<text class="t" font-size="5.5" font-weight="bold" transform="translate(1146,761) rotate(-90)" text-anchor="middle">18,0 mm</text>
<line class="ln" x1="1236" y1="618" x2="1236" y2="680"/><line class="ln" x1="1236" y1="760" x2="1236" y2="806"/>
<line class="ln" x1="1230" y1="618" x2="1242" y2="618"/><line class="ln" x1="1230" y1="806" x2="1242" y2="806"/>
<text class="d" transform="translate(1242,720) rotate(-90)" text-anchor="middle">100,0 mm</text>
<line class="ln" x1="1115" y1="820" x2="1172" y2="820"/><line class="ln" x1="1172" y1="813" x2="1172" y2="827"/>
<text class="d" x="1184" y="826">30,0 mm</text>
<path d="M1120,884 Q1120,874 1135,874 L1200,874 Q1225,877 1234,884 Q1225,892 1200,895 L1135,895 Q1120,895 1120,884 Z" fill="url(#gF)" stroke="#c07020" stroke-width="0.8"/>
<circle cx="1150" cy="884" r="4" fill="#fff"/>

<line class="ln" x1="1354" y1="597" x2="1440" y2="597"/><line class="ln" x1="1440" y1="588" x2="1440" y2="600"/>
<text class="d" x="1361" y="594">45,0 mm</text>
<rect x="1354" y="602.5" width="86" height="93" fill="url(#gY)" stroke="#c9a040" stroke-width="0.6"/>
<line x1="1354" y1="607" x2="1440" y2="607" stroke="#b06020" stroke-width="1"/>
<text class="s" x="1394" y="648" font-size="15" font-weight="bold" text-anchor="middle">stoel</text>
<line class="ln" x1="1338" y1="606" x2="1338" y2="694"/><line class="ln" x1="1333" y1="606" x2="1343" y2="606"/><line class="ln" x1="1333" y1="694" x2="1343" y2="694"/>
<text class="d" transform="translate(1337,646) rotate(-90)" text-anchor="middle">45,0 mm</text>
<path d="M1358,844 L1358,754 Q1358,713.5 1400.5,713.5 Q1443,713.5 1443,754 L1443,844 Z" fill="url(#gY)" stroke="#c9a040" stroke-width="0.8"/>
<line x1="1358" y1="838" x2="1443" y2="838" stroke="#b06020" stroke-width="1.2"/>
<text class="s" x="1403" y="773" font-size="15" font-weight="bold" text-anchor="middle">achterkant</text>
<text class="s" x="1403" y="791" font-size="15" font-weight="bold" text-anchor="middle">stoel</text>
<text class="d" transform="translate(1355,794) rotate(-90)" text-anchor="middle">3,0 mm</text>
<line class="ln" x1="1346" y1="837" x2="1358" y2="837"/><line class="ln" x1="1346" y1="844" x2="1358" y2="844"/>
<path d="M1472,713 L1465,713 L1465,838 L1472,838" class="ln"/>
<text class="d" transform="translate(1471,780) rotate(-90)" text-anchor="middle">66,0 mm</text>
<line class="ln" x1="1446" y1="856" x2="1446" y2="900"/><line class="ln" x1="1440" y1="864" x2="1452" y2="864"/>
<text class="d" x="1464" y="870">3,0 mm</text>
<line class="ln" x1="1361" y1="890" x2="1451" y2="890"/><line class="ln" x1="1361" y1="876" x2="1361" y2="900"/>
<text class="d" x="1464" y="897">45,0 mm</text>
<rect x="1208" y="900" width="8" height="130" fill="#f6c640" stroke="#b07020" stroke-width="0.7"/>
<rect x="1131" y="1024" width="85" height="7" fill="#f6c640" stroke="#b07020" stroke-width="0.7"/>
<polygon points="1328,900 1335,900 1321,1030 1314,1030" fill="#f6c640" stroke="#b07020" stroke-width="0.7"/>
<rect x="1232" y="1024" width="88" height="7" fill="#f6c640" stroke="#b07020" stroke-width="0.7"/>
<text class="s" x="1266" y="937" font-size="15" text-anchor="middle">stoel</text>
<text class="s" x="1266" y="955" font-size="15" text-anchor="middle">concept</text>
<text class="s" x="1266" y="973" font-size="15" text-anchor="middle">afhankelijk pop</text>
<polygon points="1459,898 1465,898 1449,1026 1443,1026" fill="#f6c640" stroke="#b07020" stroke-width="0.7"/>
<rect x="1361" y="1022" width="88" height="7" fill="#f6c640" stroke="#b07020" stroke-width="0.7"/>
<path d="M1366,1030 L1351,1111 M1443,1030 L1441,1111 M1366,1030 L1443,1030 M1351,1111 L1366,1111 M1423,1111 L1441,1111" stroke="#25237c" stroke-width="3" fill="none"/>
<path d="M1382,898 L1398,898" class="ln"/><line class="ln" x1="1390" y1="898" x2="1390" y2="925"/><line class="ln" x1="1390" y1="1000" x2="1390" y2="1022"/>
<text class="d" transform="translate(1396,962) rotate(-90)" text-anchor="middle">69,0 mm</text>
</svg>
</body></html>
